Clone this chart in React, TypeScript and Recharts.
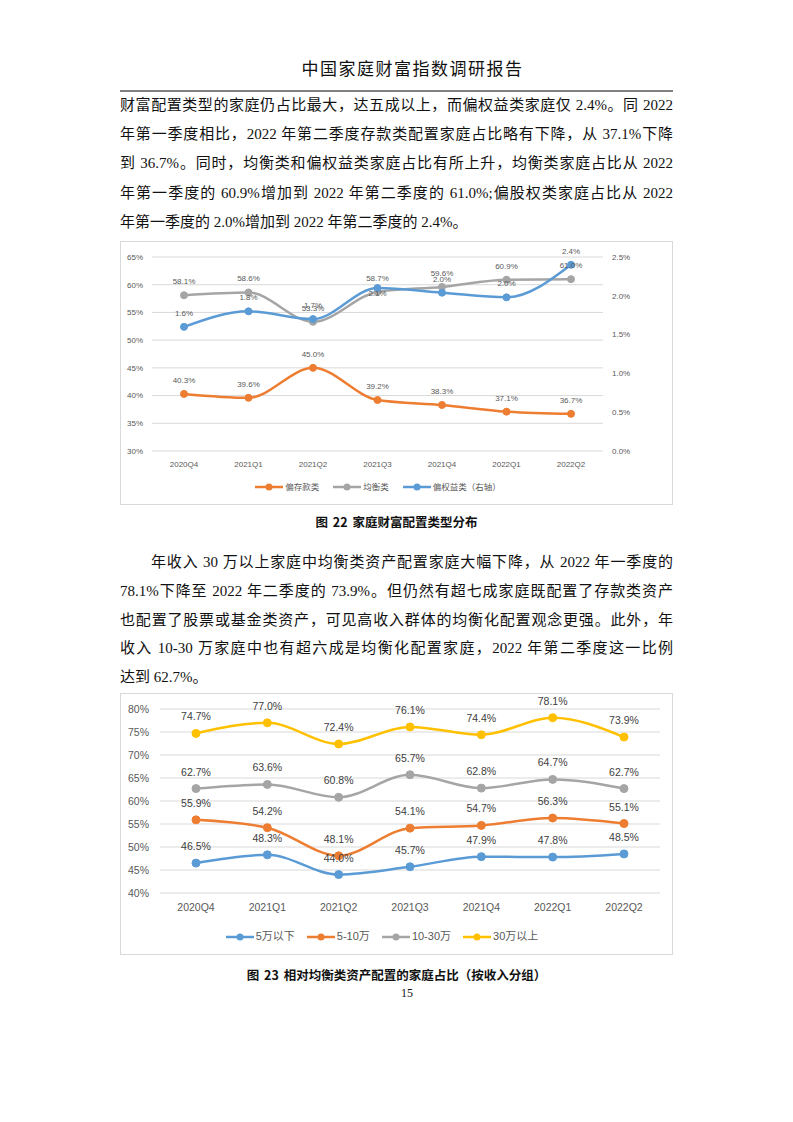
import { LineChart, Line, XAxis, YAxis, CartesianGrid, Legend, LabelList } from 'recharts';

// 季度
const quarters = ['2020Q4', '2021Q1', '2021Q2', '2021Q3', '2021Q4', '2022Q1', '2022Q2'];

// 图 22 家庭财富配置类型分布
const depositShare = [40.3, 39.6, 45.0, 39.2, 38.3, 37.1, 36.7];
const balancedShare = [58.1, 58.6, 53.3, 58.7, 59.6, 60.9, 61.0];
const equityShare = [1.6, 1.8, 1.7, 2.1, 2.04, 1.98, 2.4];
const leftTicks22 = [30, 35, 40, 45, 50, 55, 60, 65];
const rightTicks22 = [0, 0.5, 1.0, 1.5, 2.0, 2.5];

// 图 23 相对均衡类资产配置的家庭占比（按收入分组）
const under5w = [46.5, 48.3, 44.0, 45.7, 47.9, 47.8, 48.5];
const from5to10w = [55.9, 54.2, 48.1, 54.1, 54.7, 56.3, 55.1];
const from10to30w = [62.7, 63.6, 60.8, 65.7, 62.8, 64.7, 62.7];
const over30w = [74.7, 77.0, 72.4, 76.1, 74.4, 78.1, 73.9];
const ticks23 = [40, 45, 50, 55, 60, 65, 70, 75, 80];

const data22 = quarters.map((q, i) => ({
  name: q,
  deposit: depositShare[i],
  balanced: balancedShare[i],
  equity: equityShare[i],
}));

const data23 = quarters.map((q, i) => ({
  name: q,
  a: under5w[i],
  b: from5to10w[i],
  c: from10to30w[i],
  d: over30w[i],
}));

const BLUE = '#5B9BD5';
const ORANGE = '#ED7D31';
const GRAY = '#A5A5A5';
const YELLOW = '#FFC000';
const AXIS = '#595959';

const pct = (v: any) => Number(v).toFixed(1) + '%';
const pct0 = (v: any) => v + '%';

// 偏权益类 2021Q3 的标签在原图里落在点的下方
const EquityLabel = (props: any) => {
  const vb = props.viewBox || {};
  const x = vb.x ?? props.x;
  const y = vb.y ?? props.y;
  const below = props.index === 3;
  return (
    <text x={x} y={below ? y + 8 : y - 11} textAnchor="middle" fill={AXIS} fontSize={8}>
      {pct(props.value)}
    </text>
  );
};

type LegendItem = { label: string; color: string };

const LegendRow = ({ items, fontSize, gap }: { items: LegendItem[]; fontSize: number; gap: number }) => (
  <div style={{ display: 'flex', justifyContent: 'center', alignItems: 'center', gap }}>
    {items.map((it) => (
      <div key={it.label} style={{ display: 'flex', alignItems: 'center' }}>
        <svg width={28} height={10}>
          <line x1={0} y1={5} x2={28} y2={5} stroke={it.color} strokeWidth={2.5} />
          <circle cx={14} cy={5} r={3.5} fill={it.color} />
        </svg>
        <span style={{ marginLeft: 2, fontSize, color: AXIS, lineHeight: 1 }}>{it.label}</span>
      </div>
    ))}
  </div>
);

const chartFont = '"Liberation Sans", "Noto Sans CJK SC", sans-serif';

const Chart22 = () => (
  <div
    style={{
      position: 'absolute',
      left: 120,
      top: 241,
      width: 553,
      height: 264,
      border: '1px solid #D9D9D9',
      boxSizing: 'border-box',
      fontFamily: chartFont,
    }}
  >
    <LineChart width={551} height={262} data={data22} margin={{ top: 15, right: 24, bottom: 0, left: 0 }}>
      <CartesianGrid vertical={false} stroke="#D9D9D9" yAxisId="left" />
      <XAxis
        dataKey="name"
        height={53}
        tickLine={false}
        axisLine={false}
        tickMargin={4}
        padding={{ left: 32, right: 32 }}
        tick={{ fontSize: 8, fill: AXIS }}
        interval={0}
      />
      <YAxis
        yAxisId="left"
        width={31}
        domain={[30, 65]}
        ticks={leftTicks22}
        tickFormatter={pct0}
        tickLine={false}
        axisLine={false}
        tickMargin={3}
        tick={{ fontSize: 8, fill: AXIS }}
      />
      <YAxis
        yAxisId="right"
        orientation="right"
        width={45}
        domain={[0, 2.5]}
        ticks={rightTicks22}
        tickFormatter={pct}
        tickLine={false}
        axisLine={false}
        tickMargin={3}
        tick={{ fontSize: 8, fill: AXIS, textAnchor: 'start' }}
      />
      <Legend
        verticalAlign="middle"
        layout="horizontal"
        align="center"
        wrapperStyle={{ top: 240, left: 0, width: 514 }}
        content={() => (
          <LegendRow
            fontSize={8.5}
            gap={14}
            items={[
              { label: '偏存款类', color: ORANGE },
              { label: '均衡类', color: GRAY },
              { label: '偏权益类（右轴）', color: BLUE },
            ]}
          />
        )}
      />
      <Line
        yAxisId="left"
        type="monotone"
        dataKey="deposit"
        stroke={ORANGE}
        strokeWidth={2.5}
        dot={{ r: 3.5, fill: ORANGE, stroke: ORANGE, strokeWidth: 1 }}
        isAnimationActive={false}
      >
        <LabelList dataKey="deposit" position="top" offset={11} formatter={pct} fill={AXIS} stroke="none" fontSize={8} />
      </Line>
      <Line
        yAxisId="left"
        type="monotone"
        dataKey="balanced"
        stroke={GRAY}
        strokeWidth={2.5}
        dot={{ r: 3.5, fill: GRAY, stroke: GRAY, strokeWidth: 1 }}
        isAnimationActive={false}
      >
        <LabelList dataKey="balanced" position="top" offset={11} formatter={pct} fill={AXIS} stroke="none" fontSize={8} />
      </Line>
      <Line
        yAxisId="right"
        type="monotone"
        dataKey="equity"
        stroke={BLUE}
        strokeWidth={2.5}
        dot={{ r: 3.5, fill: BLUE, stroke: BLUE, strokeWidth: 1 }}
        isAnimationActive={false}
      >
        <LabelList dataKey="equity" content={EquityLabel} />
      </Line>
    </LineChart>
  </div>
);

const Chart23 = () => (
  <div
    style={{
      position: 'absolute',
      left: 120,
      top: 693,
      width: 553,
      height: 262,
      border: '1px solid #D9D9D9',
      boxSizing: 'border-box',
      fontFamily: chartFont,
    }}
  >
    <LineChart width={551} height={260} data={data23} margin={{ top: 15, right: 12, bottom: 0, left: 0 }}>
      <CartesianGrid vertical={false} stroke="#D9D9D9" />
      <XAxis
        dataKey="name"
        height={61}
        tickLine={false}
        axisLine={false}
        tickMargin={5}
        padding={{ left: 36, right: 36 }}
        tick={{ fontSize: 10.5, fill: AXIS }}
        interval={0}
      />
      <YAxis
        width={39}
        domain={[40, 80]}
        ticks={ticks23}
        tickFormatter={pct0}
        tickLine={false}
        axisLine={false}
        tickMargin={5}
        tick={{ fontSize: 10.5, fill: AXIS }}
      />
      <Legend
        verticalAlign="middle"
        layout="horizontal"
        align="center"
        wrapperStyle={{ top: 237, left: 0, width: 522 }}
        content={() => (
          <LegendRow
            fontSize={11}
            gap={12}
            items={[
              { label: '5万以下', color: BLUE },
              { label: '5-10万', color: ORANGE },
              { label: '10-30万', color: GRAY },
              { label: '30万以上', color: YELLOW },
            ]}
          />
        )}
      />
      {[
        { key: 'a', color: BLUE },
        { key: 'b', color: ORANGE },
        { key: 'c', color: GRAY },
        { key: 'd', color: YELLOW },
      ].map((s) => (
        <Line
          key={s.key}
          type="monotone"
          dataKey={s.key}
          stroke={s.color}
          strokeWidth={2.5}
          dot={{ r: 4, fill: s.color, stroke: s.color, strokeWidth: 1 }}
          isAnimationActive={false}
        >
          <LabelList dataKey={s.key} position="top" offset={13} formatter={pct} fill="#404040" stroke="none" fontSize={10.5} />
        </Line>
      ))}
    </LineChart>
  </div>
);

const bodyFont = '"Liberation Serif", "Noto Sans CJK SC", serif';

const para1 = [
  '财富配置类型的家庭仍占比最大，达五成以上，而偏权益类家庭仅 2.4%。同 2022',
  '年第一季度相比，2022 年第二季度存款类配置家庭占比略有下降，从 37.1%下降',
  '到 36.7%。同时，均衡类和偏权益类家庭占比有所上升，均衡类家庭占比从 2022',
  '年第一季度的 60.9%增加到 2022 年第二季度的 61.0%;偏股权类家庭占比从 2022',
  '年第一季度的 2.0%增加到 2022 年第二季度的 2.4%。',
];

const para2 = [
  '年收入 30 万以上家庭中均衡类资产配置家庭大幅下降，从 2022 年一季度的',
  '78.1%下降至 2022 年二季度的 73.9%。但仍然有超七成家庭既配置了存款类资产',
  '也配置了股票或基金类资产，可见高收入群体的均衡化配置观念更强。此外，年',
  '收入 10-30 万家庭中也有超六成是均衡化配置家庭，2022 年第二季度这一比例',
  '达到 62.7%。',
];

const TextLine = ({ text, center, indent, last }: { text: string; center: number; indent?: number; last?: boolean }) => (
  <div
    style={{
      position: 'absolute',
      left: 120 + (indent || 0),
      top: center - 10,
      width: 553 - (indent || 0),
      height: 20,
      lineHeight: '20px',
      fontSize: 15,
      fontFamily: bodyFont,
      color: '#111',
      whiteSpace: 'nowrap',
      textAlign: last ? 'left' : 'justify',
      textAlignLast: last ? 'left' : 'justify',
    }}
  >
    {text}
  </div>
);

const Caption = ({ text, center }: { text: string; center: number }) => (
  <div
    style={{
      position: 'absolute',
      left: 0,
      width: 793,
      top: center - 9,
      height: 18,
      lineHeight: '18px',
      textAlign: 'center',
      fontSize: 12.5,
      fontWeight: 'bold',
      fontFamily: '"Noto Sans CJK SC", sans-serif',
      color: '#111',
      wordSpacing: 2,
    }}
  >
    {text}
  </div>
);

export default function App() {
  return (
    <div style={{ position: 'absolute', left: 0, top: 0, width: 793, height: 1122, background: '#fff' }}>
      <div
        style={{
          position: 'absolute',
          left: 290,
          width: 245,
          top: 59,
          height: 22,
          lineHeight: '22px',
          textAlign: 'center',
          fontSize: 17,
          letterSpacing: 1.5,
          fontFamily: bodyFont,
          color: '#111',
        }}
      >
        中国家庭财富指数调研报告
      </div>
      <div style={{ position: 'absolute', left: 120, top: 90, width: 553, height: 1.5, background: '#808080' }} />

      {para1.map((t, i) => (
        <TextLine key={'p1' + i} text={t} center={105 + i * 29.2} last={i === para1.length - 1} />
      ))}

      <Chart22 />
      <Caption text="图 22 家庭财富配置类型分布" center={522} />

      {para2.map((t, i) => (
        <TextLine key={'p2' + i} text={t} center={562 + i * 28.8} indent={i === 0 ? 31 : 0} last={i === para2.length - 1} />
      ))}

      <Chart23 />
      <Caption text="图 23 相对均衡类资产配置的家庭占比（按收入分组）" center={975} />

      <div
        style={{
          position: 'absolute',
          left: 392,
          width: 30,
          top: 985,
          height: 16,
          lineHeight: '16px',
          textAlign: 'center',
          fontSize: 12,
          fontFamily: bodyFont,
          color: '#111',
        }}
      >
        15
      </div>
    </div>
  );
}
